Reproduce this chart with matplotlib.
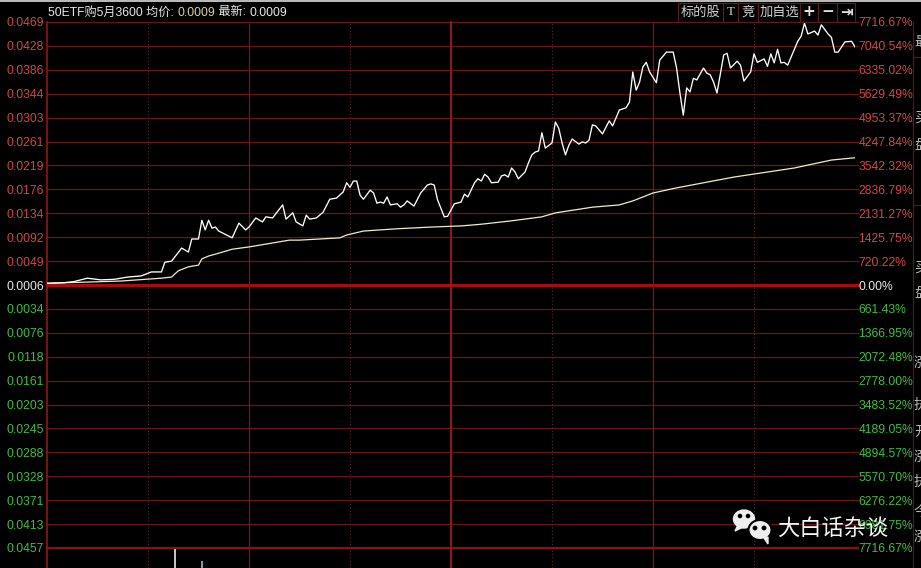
import matplotlib
matplotlib.use('Agg')
import matplotlib.pyplot as plt
from matplotlib.patches import Ellipse, Rectangle, Polygon, Circle

# ---------------- data ----------------
price_minutes = [0, 5, 8, 12, 16, 20, 24, 28, 31, 34, 35, 37, 40, 42, 43, 45, 46, 47, 48, 49, 50, 51, 55, 57, 59, 60,
                 62, 64, 65, 67, 70, 71, 73, 74, 76, 77, 78, 80, 82, 84, 86, 88, 89, 90, 91, 92, 93, 94, 96, 97,
                 98, 99, 100, 101, 102, 104, 105, 106, 107, 109, 111, 113, 114, 115, 116, 118, 119, 120, 121, 123,
                 124, 125, 127, 128, 129, 130, 131, 132, 134, 135, 136, 137, 138, 139, 140, 142, 143, 144, 145, 146,
                 147, 148, 150, 151, 152, 153, 154, 155, 156, 158, 159, 160, 161, 162, 163, 165, 167, 168, 170, 172,
                 173, 174, 175, 176, 177, 178, 179, 181, 182, 184, 186, 187, 188, 189, 190, 191, 192, 193, 195, 196,
                 197, 198, 199, 201, 202, 203, 205, 206, 207, 209, 210, 211, 213, 214, 215, 216, 217, 218, 219, 220,
                 222, 223, 224, 225, 226, 228, 229, 230, 232, 233, 234, 235, 236, 237, 239, 240]
price_values = [0.0009, 0.0010, 0.0012, 0.0018, 0.0015, 0.0016, 0.0020, 0.0022, 0.0029, 0.0029, 0.0046, 0.0048,
                0.0071, 0.0064, 0.0087, 0.0087, 0.0120, 0.0103, 0.0120, 0.0106, 0.0108, 0.0101, 0.0089, 0.0115,
                0.0103, 0.0108, 0.0124, 0.0117, 0.0126, 0.0124, 0.0147, 0.0122, 0.0133, 0.0117, 0.0110, 0.0129,
                0.0122, 0.0124, 0.0134, 0.0157, 0.0159, 0.0170, 0.0186, 0.0178, 0.0189, 0.0189, 0.0164, 0.0157,
                0.0173, 0.0168, 0.0150, 0.0152, 0.0150, 0.0161, 0.0147, 0.0149, 0.0143, 0.0147, 0.0154, 0.0145,
                0.0168, 0.0182, 0.0184, 0.0182, 0.0156, 0.0126, 0.0127, 0.0138, 0.0149, 0.0152, 0.0166, 0.0161,
                0.0186, 0.0193, 0.0189, 0.0201, 0.0196, 0.0186, 0.0187, 0.0198, 0.0200, 0.0196, 0.0212, 0.0205,
                0.0193, 0.0205, 0.0221, 0.0235, 0.0240, 0.0242, 0.0274, 0.0247, 0.0256, 0.0293, 0.0282, 0.0256,
                0.0235, 0.0252, 0.0263, 0.0254, 0.0258, 0.0256, 0.0261, 0.0288, 0.0286, 0.0272, 0.0295, 0.0286,
                0.0314, 0.0318, 0.0328, 0.0381, 0.0349, 0.0363, 0.0390, 0.0398, 0.0381, 0.0362, 0.0402, 0.0416,
                0.0416, 0.0388, 0.0344, 0.0305, 0.0353, 0.0346, 0.0370, 0.0367, 0.0388, 0.0379, 0.0376, 0.0363,
                0.0344, 0.0411, 0.0414, 0.0388, 0.0400, 0.0393, 0.0365, 0.0381, 0.0413, 0.0398, 0.0404, 0.0391,
                0.0413, 0.0397, 0.0421, 0.0397, 0.0398, 0.0393, 0.0421, 0.0435, 0.0444, 0.0467, 0.0448, 0.0453,
                0.0446, 0.0464, 0.0448, 0.0442, 0.0416, 0.0416, 0.0425, 0.0434, 0.0435, 0.0425]

avg_minutes = [0, 22, 34, 37, 39, 42, 45, 46, 48, 51, 55, 60, 65, 72, 75, 87, 89, 94, 104, 114, 123, 129, 138,
               147, 151, 162, 170, 174, 180, 187, 204, 222, 233, 240]
avg_values = [0.0009, 0.0013, 0.0018, 0.0020, 0.0031, 0.0038, 0.0041, 0.0052, 0.0057, 0.0062, 0.0069, 0.0073,
              0.0078, 0.0085, 0.0085, 0.0089, 0.0094, 0.0101, 0.0105, 0.0108, 0.0110, 0.0113, 0.0119, 0.0126,
              0.0133, 0.0143, 0.0147, 0.0154, 0.0168, 0.0177, 0.0196, 0.0212, 0.0226, 0.0230]

vol_minutes = [38, 46]
vol_values = [99, 87]

prev_close = 0.0006
price_top = 0.0469
left_labels_up = ['0.0469', '0.0428', '0.0386', '0.0344', '0.0303', '0.0261', '0.0219', '0.0176', '0.0134',
                  '0.0092', '0.0049']
left_label_mid = '0.0006'
left_labels_down = ['0.0034', '0.0076', '0.0118', '0.0161', '0.0203', '0.0245', '0.0288', '0.0328', '0.0371',
                    '0.0413', '0.0457']
right_labels_up = ['7716.67%', '7040.54%', '6335.02%', '5629.49%', '4953.37%', '4247.84%', '3542.32%',
                   '2836.79%', '2131.27%', '1425.75%', '720.22%']
right_label_mid = '0.00%'
right_labels_down = ['661.43%', '1366.95%', '2072.48%', '2778.00%', '3483.52%', '4189.05%', '4894.57%',
                     '5570.70%', '6276.22%', '6981.75%', '7716.67%']

title_name = '50ETF购5月3600'
title_avg = '0.0009'
title_last = '0.0009'
buttons = ['标的股', 'T', '竞', '加自选', '+', '−', '⇥']
watermark = '大白话杂谈'
side_chars = [(42, '最'), (118, '买'), (145, '盘'), (268, '买'), (293, '盘'), (363, '涨'), (405, '执'),
              (432, '开'), (457, '涨'), (482, '执'), (512, '今'), (537, '涨')]

# ---------------- style ----------------
W, H = 921, 568
BG = '#000000'
GRID_H = '#6a1414'
V_SOLID = '#781616'
V_CENTER = '#a31a1a'
V_DOT = '#5a2a2a'
ZERO = '#a80c0c'
RED = '#d24646'
GREEN = '#3cbf3c'
WHITE = '#e8e8e8'
NUMFONT = ['Liberation Sans', 'Noto Sans CJK SC', 'DejaVu Sans']
CJK = ['Noto Sans CJK SC', 'DejaVu Sans']
plt.rcParams['font.family'] = NUMFONT

fig = plt.figure(figsize=(W / 100, H / 100), dpi=100, facecolor=BG)

L, R, T, B = 47, 855, 22, 548
ax = fig.add_axes([L / W, 1 - B / H, (R - L) / W, (B - T) / H])
ax.set_facecolor(BG)
ax.set_xlim(0, 240)
half = price_top - prev_close
ax.set_ylim(prev_close - half, price_top)
for s in ax.spines.values():
    s.set_visible(False)
ax.set_xticks([])

n = len(left_labels_up)
levels = [prev_close + k * half / n for k in range(-n, n + 1)]
left_labels = left_labels_down[::-1] + [left_label_mid] + left_labels_up[::-1]
right_labels = right_labels_down[::-1] + [right_label_mid] + right_labels_up[::-1]
colors = [GREEN] * n + [WHITE] + [RED] * n

ext = (858 - L) / (R - L)
for k, lv in enumerate(levels):
    if k == n:
        ax.axhline(lv, xmin=0, xmax=ext, color=ZERO, lw=2.2, clip_on=False, zorder=1)
    elif k == 0:
        ax.axhline(lv, xmin=0, xmax=ext, color='#8a1212', lw=1.6, clip_on=False, zorder=1)
    else:
        ax.axhline(lv, xmin=0, xmax=ext, color=GRID_H, lw=0.9, clip_on=False, zorder=1)

ybot = -(H - B) / (B - T)
for m in [30, 60, 90, 120, 150, 180, 210]:
    if m == 120:
        ax.axvline(m, ymin=ybot, ymax=1, color=V_CENTER, lw=1.3, clip_on=False, zorder=1)
    elif m % 60 == 0:
        ax.axvline(m, ymin=ybot, ymax=1, color=V_SOLID, lw=0.9, clip_on=False, zorder=1)
    else:
        ax.axvline(m, ymin=ybot, ymax=1, color=V_DOT, lw=0.8, ls=(0, (1, 2)), clip_on=False, zorder=1)
ax.axvline(0, ymin=ybot, ymax=1, color='#8e1818', lw=1.2, clip_on=False, zorder=1)

ax.set_yticks(levels)
ax.set_yticklabels(left_labels, fontsize=8.7)
ax.tick_params(axis='y', length=0, pad=2.2)
for lab, c in zip(ax.get_yticklabels(), colors):
    lab.set_color(c)

ax2 = ax.twinx()
ax2.set_ylim(ax.get_ylim())
for s in ax2.spines.values():
    s.set_visible(False)
ax2.set_yticks(levels)
ax2.set_yticklabels(right_labels, fontsize=8.7)
ax2.tick_params(axis='y', length=0, pad=2.4)
for lab, c in zip(ax2.get_yticklabels(), colors):
    lab.set_color(c)

ax.plot(avg_minutes, avg_values, color='#f2ecc4', lw=0.9, zorder=3)
ax.plot(price_minutes, price_values, color='#ffffff', lw=0.95, zorder=4)

# volume panel (mostly cut off by the bottom edge)
vax = fig.add_axes([L / W, 1 - (B + 100) / H, (R - L) / W, 100 / H])
vax.set_xlim(0, 240)
vax.set_ylim(0, 100)
vax.axis('off')
vax.vlines(vol_minutes, 0, vol_values, colors=['#ffffff', '#a8c8e0'], lw=1.1)

# overlay for chrome in pixel coordinates
oax = fig.add_axes([0, 0, 1, 1])
oax.set_xlim(0, W)
oax.set_ylim(H, 0)
oax.axis('off')
oax.patch.set_visible(False)

oax.add_patch(Rectangle((0, 0), W, 2.2, color='#b8b8b8', lw=0))

fig.canvas.draw()
rend = fig.canvas.get_renderer()
x = 48
for s, c in [(title_name + ' 均价: ', WHITE), (title_avg, '#d8d0a0'), (' 最新: ', WHITE), (title_last, WHITE)]:
    t = oax.text(x, 12.5, s, color=c, fontsize=8.7, va='center', ha='left', family=NUMFONT)
    bb = t.get_window_extent(rend)
    x += bb.width

edges = [678, 723, 738, 758, 800, 818, 837, 855]
for i, lab in enumerate(buttons):
    x0, x1 = edges[i], edges[i + 1]
    oax.add_patch(Rectangle((x0, 2.5), x1 - x0, 19.5, fill=False, ec='#5c1c1c', lw=0.8))
    if lab in ['+', '−', '⇥']:
        oax.text((x0 + x1) / 2, 12, lab, color='#e0e0e0', fontsize=11, fontweight='bold',
                 ha='center', va='center', family=['DejaVu Sans'])
    elif lab == 'T':
        oax.text((x0 + x1) / 2, 12, lab, color='#d0d0d0', fontsize=9.5,
                 ha='center', va='center', family=['Liberation Serif'])
    else:
        oax.text((x0 + x1) / 2, 12, lab, color='#d0d0d0', fontsize=9.5,
                 ha='center', va='center', family=CJK)

# right sidebar
oax.plot([913, 913], [22, H], color='#5a1616', lw=0.9)
for yy in [57, 205]:
    oax.plot([913, W], [yy, yy], color='#5a1616', lw=0.9)
for yy, ch in side_chars:
    oax.text(914, yy, ch, color='#b8b8b8', fontsize=10, ha='left', va='center', family=CJK)

# watermark
oax.add_patch(Ellipse((744, 519), 21, 18, color='#eeeeee', zorder=5))
oax.add_patch(Polygon([[738, 525], [735, 531], [743, 527]], color='#eeeeee', zorder=5))
oax.add_patch(Ellipse((760, 530), 23, 20, fc='#eeeeee', ec='#000000', lw=1.5, zorder=6))
oax.add_patch(Polygon([[764, 538], [768, 544], [768, 537]], color='#eeeeee', zorder=6))
for cx, cy, r in [(740, 516, 1.6), (748, 516, 1.6), (755, 528, 1.7), (764, 528, 1.7)]:
    oax.add_patch(Circle((cx, cy), r, color='#000000', zorder=7))
oax.text(777, 528, watermark, color='#f4f4f4', fontsize=16, ha='left', va='center', family=CJK, zorder=7)

fig.savefig('out.png', dpi=100, facecolor=BG)
